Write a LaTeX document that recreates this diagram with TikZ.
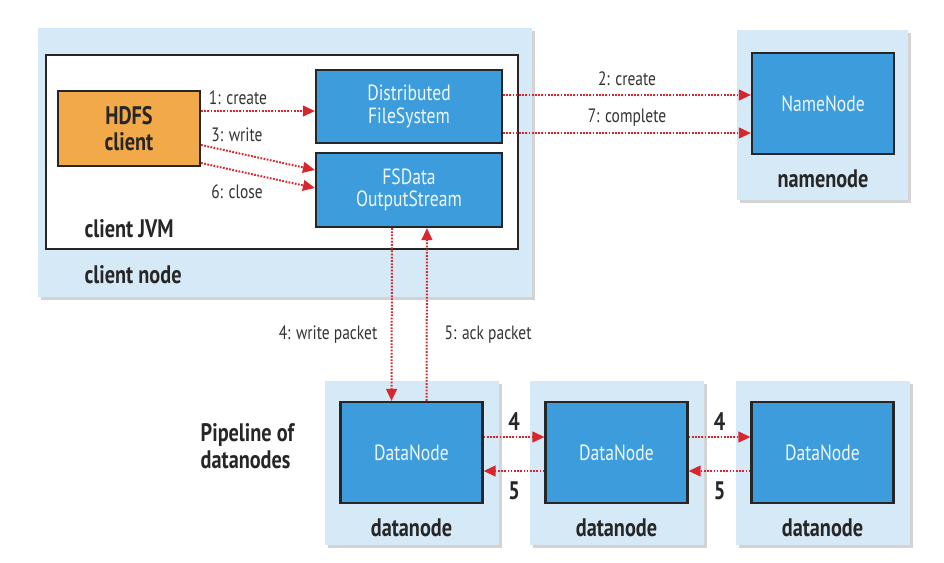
\documentclass[tikz,border=0pt]{standalone}
\usepackage{fontspec}
\setmainfont{PT Sans}[FakeStretch=0.8]
\usetikzlibrary{arrows.meta, shadows, calc}
\definecolor{hostblue}{HTML}{D6E9F6}
\definecolor{procblue}{HTML}{3D9CDB}
\definecolor{clientorange}{HTML}{F2A94A}
\definecolor{flowred}{HTML}{D8262E}

\begin{document}
\begin{tikzpicture}[x=0.75pt, y=-0.75pt,
  host/.style={fill=hostblue, inner sep=0pt,
    drop shadow={shadow xshift=2.5pt, shadow yshift=-2.5pt, opacity=0.35}},
  proc/.style={draw=black!85, line width=1.6pt, fill=procblue, text=white!92!procblue,
    align=center, font=\fontsize{16.5}{17}\selectfont},
  flow/.style={flowred, line width=1.5pt, dash pattern=on 1.3pt off 1.1pt,
    -{Triangle[length=9pt, width=8pt]}},
  tag/.style={font=\bfseries\fontsize{19}{20}\selectfont, text=black!85},
  lbl/.style={font=\fontsize{14.5}{15}\selectfont, text=black!80}]
  \useasboundingbox (0,0) rectangle (944,562);

  % client side
  \node[host, minimum width=370.5pt, minimum height=201.75pt] (clientnode) at (285,162.5) {};
  \node[draw=black!85, line width=1.6pt, fill=white, minimum width=354pt, minimum height=145.5pt] (clientjvm) at (282,152) {};
  \node[proc, fill=clientorange, text=black!85, font=\bfseries\fontsize{19}{20}\selectfont,
    minimum width=106.5pt, minimum height=56.25pt] (hdfs) at (129,128.5) {HDFS\\client};
  \node[proc, minimum width=139.5pt, minimum height=54.75pt] (dfs) at (409,106.5) {Distributed\\FileSystem};
  \node[proc, minimum width=139.5pt, minimum height=55.5pt] (fsdata) at (409,190) {FSData\\OutputStream};
  \node[tag, anchor=west] (jvmtag) at (80,229) {client JVM};
  \node[tag, anchor=west] (clienttag) at (80,275) {client node};

  % namenode
  \node[host, minimum width=128.25pt, minimum height=127.5pt] (namehost) at (822.5,115) {};
  \node[proc, minimum width=106.5pt, minimum height=75.75pt] (namenode) at (823,103.5) {NameNode};
  \node[tag] (nametag) at (823,179) {namenode};

  % pipeline of datanodes
  \node[tag, align=left, anchor=west] (pipetag) at (196,446) {Pipeline of\\datanodes};
  \foreach \i/\x in {1/411.5, 2/616.5, 3/822.5} {
    \node[host, minimum width=130.5pt, minimum height=123pt] (dhost\i) at (\x,463) {};
    \node[proc, minimum width=106.5pt, minimum height=75.75pt] (dn\i) at (\x,452.5) {DataNode};
    \node[tag] (dtag\i) at (\x,528) {datanode};
  }

  % client calls
  \draw[flow] ($(hdfs.east)+(0,-17.5)$) -- ($(dfs.west)+(0,4.5)$);
  \draw[flow] ($(hdfs.east)+(0,16.5)$) -- ($(fsdata.west)+(0,-20)$);
  \draw[flow] ($(hdfs.east)+(0,34.5)$) -- ($(fsdata.west)+(0,-2)$);
  \node[lbl] (l1) at (238,98) {1: create};
  \node[lbl] (l3) at (237,135) {3: write};
  \node[lbl] (l6) at (237,192) {6: close};

  % namenode calls
  \draw[flow] ($(dfs.east)+(0,-11.5)$) -- ($(namenode.west)+(0,-8.5)$);
  \draw[flow] ($(dfs.east)+(0,26.5)$) -- ($(namenode.west)+(0,29.5)$);
  \node[lbl] (l2) at (627,79) {2: create};
  \node[lbl] (l7) at (627,118) {7: complete};

  % packets
  \draw[flow] ($(fsdata.south)+(-17,0)$) -- ($(dn1.north)+(-20,0)$);
  \draw[flow] ($(dn1.north)+(15,0)$) -- ($(fsdata.south)+(18,0)$);
  \node[lbl, anchor=east] (l4) at (382,335) {4: write packet};
  \node[lbl, anchor=west] (l5) at (440,335) {5: ack packet};
  \foreach \a/\b in {1/2, 2/3} {
    \draw[flow] ($(dn\a.east)+(0,-15.5)$) -- ($(dn\b.west)+(0,-15.5)$);
    \draw[flow] ($(dn\b.west)+(0,18.5)$) -- ($(dn\a.east)+(0,18.5)$);
    \node[tag] at ($(dn\a.east)!0.5!(dn\b.west)+(0,-30.5)$) {4};
    \node[tag] at ($(dn\a.east)!0.5!(dn\b.west)+(0,38.5)$) {5};
  }
\end{tikzpicture}
\end{document}
